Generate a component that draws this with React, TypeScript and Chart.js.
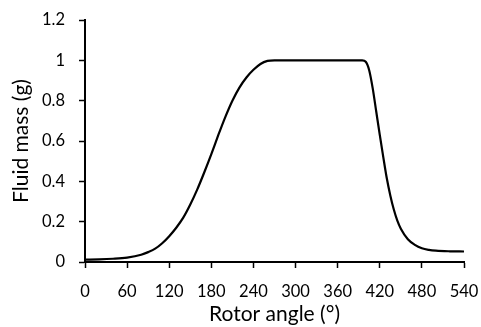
import React, { useEffect, useRef } from "react";
import { Chart, registerables } from "chart.js";

Chart.register(...registerables);

const angles = [0, 20, 40, 60, 80, 90, 100, 110, 120, 130, 140, 150, 160, 170, 180, 190, 200, 210, 220, 230, 240, 250, 260, 270, 300, 360, 395, 400, 405, 410, 415, 420, 425, 430, 435, 440, 445, 450, 460, 470, 480, 490, 500, 520, 540];
const fluidMass = [0.012, 0.013, 0.016, 0.022, 0.036, 0.049, 0.066, 0.093, 0.128, 0.17, 0.22, 0.285, 0.36, 0.445, 0.535, 0.63, 0.72, 0.8, 0.865, 0.915, 0.953, 0.982, 0.997, 1.0, 1.0, 1.0, 1.0, 0.993, 0.95, 0.86, 0.745, 0.63, 0.52, 0.415, 0.33, 0.26, 0.205, 0.165, 0.113, 0.085, 0.068, 0.06, 0.056, 0.053, 0.052];
const xTicks = [0, 60, 120, 180, 240, 300, 360, 420, 480, 540];
const yTicks = [0, 0.2, 0.4, 0.6, 0.8, 1, 1.2];
const xTitle = "Rotor angle (°)";
const yTitle = "Fluid mass (g)";

const FONT = "Lato, 'Noto Sans', sans-serif";

export default function App() {
  const ref = useRef<HTMLCanvasElement | null>(null);

  useEffect(() => {
    document.body.style.margin = "0";
    const canvas = ref.current;
    if (!canvas) return;
    const chart = new Chart(canvas, {
      type: "line",
      data: {
        datasets: [
          {
            data: angles.map((a, i) => ({ x: a, y: fluidMass[i] })),
            borderColor: "#000",
            borderWidth: 2.2,
            pointRadius: 0,
            cubicInterpolationMode: "monotone",
            fill: false,
          },
        ],
      },
      options: {
        animation: false,
        responsive: false,
        maintainAspectRatio: false,
        layout: { padding: { left: 0, right: 17, top: 20, bottom: 0 } },
        plugins: { legend: { display: false }, tooltip: { enabled: false } },
        scales: {
          x: {
            type: "linear",
            min: 0,
            max: 540,
            afterBuildTicks: (s: any) => {
              s.ticks = xTicks.map((v) => ({ value: v }));
            },
            afterFit: (s: any) => {
              s.height = 65;
              s.paddingLeft = 0;
              s.paddingRight = 0;
            },
            ticks: {
              color: "#000",
              font: { family: FONT, size: 16.5 },
              padding: 14,
              maxRotation: 0,
              autoSkip: false,
            },
            grid: {
              display: true,
              drawOnChartArea: false,
              drawTicks: true,
              tickLength: 6,
              tickColor: "#000",
              tickWidth: 1.5,
            },
            border: { display: true, color: "#000", width: 2 },
            title: {
              display: true,
              text: xTitle,
              color: "#000",
              font: { family: FONT, size: 21 },
              padding: { top: 0, bottom: 0 },
            },
          },
          y: {
            type: "linear",
            min: 0,
            max: 1.2,
            afterBuildTicks: (s: any) => {
              s.ticks = yTicks.map((v) => ({ value: v }));
            },
            afterFit: (s: any) => {
              s.width = 85;
              s.paddingTop = 0;
              s.paddingBottom = 0;
            },
            ticks: {
              color: "#000",
              font: { family: FONT, size: 16.5 },
              padding: 14,
              callback: (v: any) => String(Math.round(Number(v) * 10) / 10),
            },
            grid: {
              display: true,
              drawOnChartArea: false,
              drawTicks: true,
              tickLength: 6,
              tickColor: "#000",
              tickWidth: 1.5,
            },
            border: { display: true, color: "#000", width: 2 },
            title: {
              display: true,
              text: yTitle,
              color: "#000",
              font: { family: FONT, size: 21 },
              padding: { top: 9, bottom: 0 },
            },
          },
        },
      },
    } as any);
    return () => chart.destroy();
  }, []);

  return (
    <div style={{ width: 481, height: 327, background: "#fff" }}>
      <canvas ref={ref} width={481} height={327} style={{ display: "block", width: 481, height: 327 }} />
    </div>
  );
}
